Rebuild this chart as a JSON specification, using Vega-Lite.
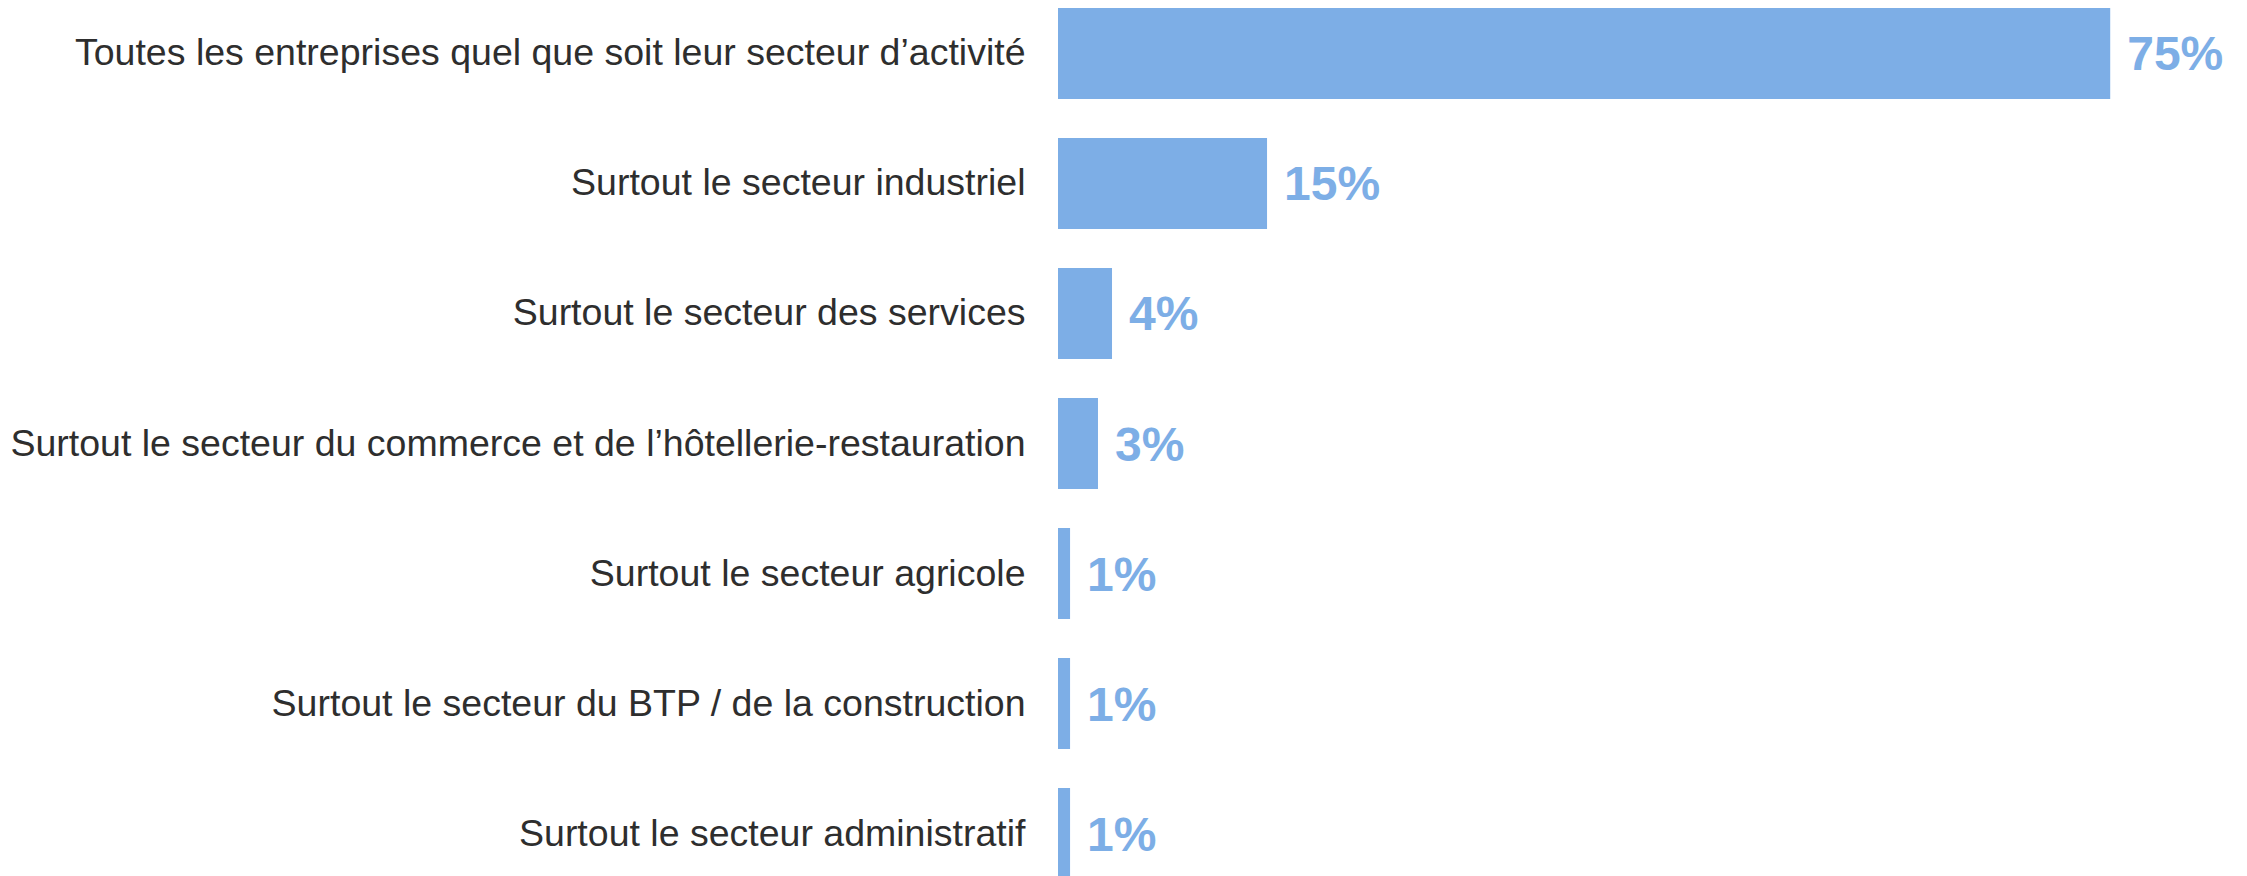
{
  "$schema": "https://vega.github.io/schema/vega-lite/v6.json",
  "autosize": {"type": "none"},
  "padding": {"left": 1058, "top": 0, "right": 0, "bottom": 0},
  "width": 1189,
  "height": 887,
  "background": "white",
  "config": {"view": {"stroke": null}, "font": "Liberation Sans"},
  "data": {
    "values": [
      {"secteur": "Toutes les entreprises quel que soit leur secteur d’activité", "valeur": 75, "label": "75%"},
      {"secteur": "Surtout le secteur industriel", "valeur": 14.9, "label": "15%"},
      {"secteur": "Surtout le secteur des services", "valeur": 3.85, "label": "4%"},
      {"secteur": "Surtout le secteur du commerce et de l’hôtellerie-restauration", "valeur": 2.85, "label": "3%"},
      {"secteur": "Surtout le secteur agricole", "valeur": 0.86, "label": "1%"},
      {"secteur": "Surtout le secteur du BTP / de la construction", "valeur": 0.86, "label": "1%"},
      {"secteur": "Surtout le secteur administratif", "valeur": 0.86, "label": "1%"}
    ]
  },
  "encoding": {
    "y": {
      "field": "secteur",
      "type": "nominal",
      "sort": null,
      "scale": {"paddingInner": 0.3, "paddingOuter": 0.0615},
      "axis": {
        "title": null,
        "ticks": false,
        "domain": false,
        "labelPadding": 33,
        "labelFontSize": 37.5,
        "labelColor": "#2e2e2e",
        "labelLimit": 2000,
        "labelFont": "Liberation Sans",
        "labelOffset": 1
      }
    },
    "x": {
      "field": "valeur",
      "type": "quantitative",
      "scale": {"domain": [0, 84.75], "nice": false},
      "axis": null
    }
  },
  "layer": [
    {"mark": {"type": "bar", "color": "#7daee6"}},
    {
      "mark": {"type": "text", "align": "left", "baseline": "middle", "dx": 17, "dy": 3, "fontSize": 48, "fontWeight": "bold", "color": "#7daee6", "font": "Liberation Sans"},
      "encoding": {"text": {"field": "label"}}
    }
  ]
}
